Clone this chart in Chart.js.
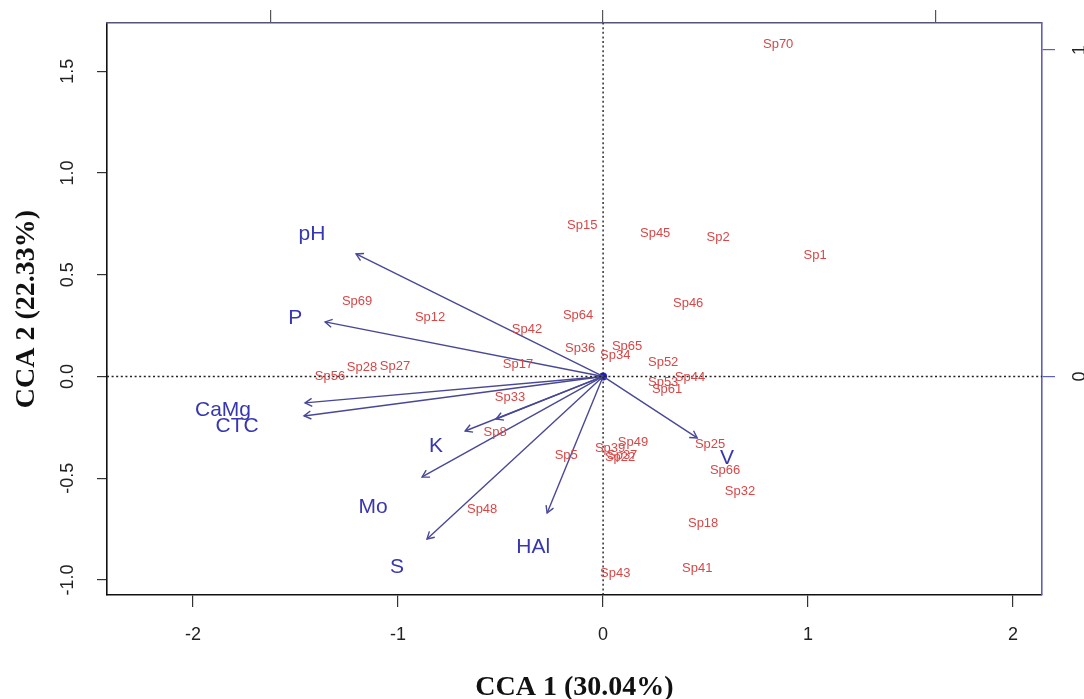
<!DOCTYPE html>
<html>
<head>
<meta charset="utf-8">
<script src="https://cdn.jsdelivr.net/npm/chart.js@4.4.1/dist/chart.umd.min.js"></script>
<style>
  body { margin: 0; background: #fff; }
  #wrap { width: 1084px; height: 699px; position: relative; }
</style>
</head>
<body>
<div id="wrap"><canvas id="ccaChart"></canvas></div>
<script>
// species scores on CCA1 / CCA2
var speciesNames = ['Sp70','Sp15','Sp45','Sp2','Sp1','Sp46','Sp69','Sp12','Sp64','Sp42',
  'Sp36','Sp65','Sp34','Sp52','Sp17','Sp28','Sp27','Sp56','Sp44','Sp53',
  'Sp61','Sp33','Sp8','Sp5','Sp39','Sp49','Sp37','Sp22','Sp25','Sp66',
  'Sp32','Sp18','Sp41','Sp43','Sp48'];
var speciesX = [0.854,-0.102,0.254,0.561,1.034,0.415,-1.200,-0.844,-0.122,-0.371,
  -0.112,0.117,0.059,0.293,-0.415,-1.176,-1.015,-1.332,0.424,0.293,
  0.312,-0.454,-0.527,-0.180,0.034,0.146,0.093,0.083,0.522,0.595,
  0.668,0.488,0.459,0.059,-0.590];
var speciesY = [1.634,0.744,0.705,0.681,0.597,0.361,0.371,0.288,0.302,0.229,
  0.140,0.150,0.101,0.071,0.061,0.042,0.047,-0.002,-0.007,-0.027,
  -0.066,-0.101,-0.273,-0.386,-0.356,-0.322,-0.386,-0.400,-0.332,-0.464,
  -0.563,-0.720,-0.941,-0.966,-0.651];

// environmental variables: arrow tips and label positions
var envNames = ['pH','P','CaMg','CTC','','K','Mo','S','HAl','V'];
var envX = [-1.205,-1.356,-1.454,-1.459,-0.522,-0.673,-0.883,-0.859,-0.273,0.459];
var envY = [0.602,0.268,-0.130,-0.194,-0.209,-0.268,-0.494,-0.799,-0.671,-0.302];
var envLabelX = [-1.420,-1.502,-1.854,-1.785,-0.522,-0.815,-1.122,-1.005,-0.341,0.605];
var envLabelY = [0.700,0.288,-0.165,-0.243,-0.209,-0.342,-0.641,-0.936,-0.838,-0.400];

// axes
var xTicks = [-2,-1,0,1,2];
var yTicks = [-1,-0.5,0,0.5,1,1.5];
var topTicks = [-1,0,1];
var rightTicks = [0,1];
var xRange = [-2.42, 2.141];
var yRange = [-1.074, 1.737];
var topScale = 1.62;
var rightScale = 1.604;

var arrowColor = 'rgb(72,72,150)';
var envTextColor = 'rgb(55,55,178)';
var spTextColor = 'rgb(214,72,72)';
var axisBlue = 'rgb(95,95,190)';

var datasets = [];

// dotted lines through the origin
datasets.push({
  data: [{x: 0, y: yRange[0]}, {x: 0, y: yRange[1]}],
  showLine: true, borderColor: '#222', borderWidth: 1.4, borderDash: [2, 2.6], pointRadius: 0
});
datasets.push({
  data: [{x: xRange[0], y: 0}, {x: xRange[1], y: 0}],
  showLine: true, borderColor: '#222', borderWidth: 1.4, borderDash: [2, 2.6], pointRadius: 0
});

for (var i = 0; i < envNames.length; i++) {
  datasets.push({
    label: envNames[i],
    data: [{x: 0, y: 0}, {x: envX[i], y: envY[i]}],
    showLine: true, borderColor: arrowColor, borderWidth: 1.4, pointRadius: 0,
    arrowHead: true
  });
}

// blue dot at the centre
datasets.push({
  data: [{x: 0, y: 0}],
  pointRadius: 4, backgroundColor: 'rgb(30,30,215)', borderWidth: 0
});

datasets.push({
  data: envLabelX.map(function (x, j) { return {x: x, y: envLabelY[j]}; }),
  pointRadius: 0,
  textLabels: envNames, textColor: envTextColor, textFont: '21px "Liberation Sans", Arial'
});

datasets.push({
  data: speciesX.map(function (x, j) { return {x: x, y: speciesY[j]}; }),
  pointRadius: 0,
  textLabels: speciesNames, textColor: spTextColor, textFont: '13px "Liberation Sans", Arial'
});

// arrow heads and text labels
var marksPlugin = {
  id: 'marks',
  afterDatasetsDraw: function (chart) {
    var ctx = chart.ctx;
    ctx.save();
    chart.data.datasets.forEach(function (ds, k) {
      var meta = chart.getDatasetMeta(k);
      if (ds.arrowHead) {
        var a = meta.data[0], b = meta.data[1];
        var ang = Math.atan2(b.y - a.y, b.x - a.x);
        var len = 8, spread = Math.PI / 6;
        ctx.strokeStyle = ds.borderColor;
        ctx.lineWidth = 1.4;
        ctx.beginPath();
        ctx.moveTo(b.x - len * Math.cos(ang - spread), b.y - len * Math.sin(ang - spread));
        ctx.lineTo(b.x, b.y);
        ctx.lineTo(b.x - len * Math.cos(ang + spread), b.y - len * Math.sin(ang + spread));
        ctx.stroke();
      }
    });
    chart.data.datasets.forEach(function (ds, k) {
      if (!ds.textLabels) return;
      var meta = chart.getDatasetMeta(k);
      ctx.font = ds.textFont;
      ctx.fillStyle = ds.textColor;
      ctx.textAlign = 'center';
      ctx.textBaseline = 'middle';
      meta.data.forEach(function (pt, j) {
        if (ds.textLabels[j]) ctx.fillText(ds.textLabels[j], pt.x, pt.y);
      });
    });
    ctx.restore();
  }
};

function fixTicks(list) {
  return function (scale) {
    scale.ticks = list.map(function (v) { return {value: v}; });
  };
}

// fixed box sizes, no extra room for overflowing tick labels
function fixSize(w, h) {
  return function (s) {
    if (w !== null) s.width = w;
    if (h !== null) s.height = h;
    s.paddingTop = 0; s.paddingBottom = 0;
    s.paddingLeft = 0; s.paddingRight = 0;
  };
}

var tickFont = {family: '"Liberation Sans", Arial', size: 18};
var titleFont = {family: '"Liberation Serif", "Times New Roman"', size: 28, weight: 'bold', lineHeight: 1};

new Chart(document.getElementById('ccaChart'), {
  type: 'scatter',
  data: {datasets: datasets},
  plugins: [marksPlugin],
  options: {
    responsive: true,
    maintainAspectRatio: false,
    animation: false,
    layout: {padding: 0},
    plugins: {legend: {display: false}, tooltip: {enabled: false}},
    scales: {
      x: {
        type: 'linear', position: 'bottom', min: xRange[0], max: xRange[1],
        afterBuildTicks: fixTicks(xTicks),
        afterFit: fixSize(null, 104),
        grid: {drawOnChartArea: false, tickLength: 12, color: '#333', lineWidth: 1.2},
        border: {color: '#111', width: 1.6},
        ticks: {padding: 17, color: '#222', font: tickFont, maxRotation: 0, autoSkip: false,
          callback: function (v) { return String(v); }},
        title: {display: true, text: 'CCA 1 (30.04%)', color: '#111', font: titleFont,
          padding: {top: 0, bottom: -3}}
      },
      y: {
        type: 'linear', position: 'left', min: yRange[0], max: yRange[1],
        afterBuildTicks: fixTicks(yTicks),
        afterFit: fixSize(107, null),
        grid: {drawOnChartArea: false, tickLength: 10, color: '#333', lineWidth: 1.2},
        border: {color: '#111', width: 1.6},
        ticks: {padding: 13, color: '#222', font: tickFont, minRotation: 90, maxRotation: 90,
          crossAlign: 'center', autoSkip: false,
          callback: function (v) { return v.toFixed(1); }},
        title: {display: true, text: 'CCA 2 (22.33%)', color: '#111', font: titleFont,
          padding: {top: 13, bottom: 0}}
      },
      x2: {
        type: 'linear', position: 'top', min: xRange[0] / topScale, max: xRange[1] / topScale,
        afterBuildTicks: fixTicks(topTicks),
        afterFit: fixSize(null, 23),
        grid: {drawOnChartArea: false, tickLength: 13, color: '#555', lineWidth: 1.2},
        border: {color: '#55557a', width: 1.6},
        ticks: {display: false}
      },
      y2: {
        type: 'linear', position: 'right', min: yRange[0] / rightScale, max: yRange[1] / rightScale,
        afterBuildTicks: fixTicks(rightTicks),
        afterFit: fixSize(42, null),
        grid: {drawOnChartArea: false, tickLength: 13, color: axisBlue, lineWidth: 1.2},
        border: {color: axisBlue, width: 1.6},
        ticks: {padding: 20, color: '#222', font: tickFont, minRotation: 90, maxRotation: 90,
          crossAlign: 'center', autoSkip: false,
          callback: function (v) { return String(v); }}
      }
    }
  }
});
</script>
</body>
</html>
